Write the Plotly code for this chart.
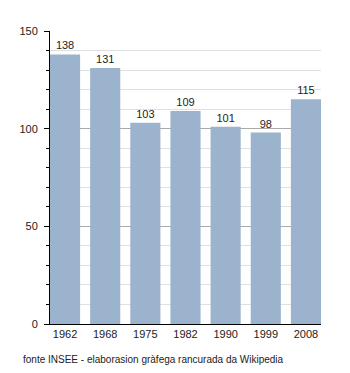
import plotly.graph_objects as go

# Population figures by census year
years = ["1962", "1968", "1975", "1982", "1990", "1999", "2008"]
population = [138, 131, 103, 109, 101, 98, 115]
source_note = "fonte INSEE - elaborasion gràfega rancurada da Wikipedia"

font_family = "Liberation Sans, Arial, sans-serif"

fig = go.Figure(
    go.Bar(
        x=years,
        y=population,
        marker=dict(color="#9bb3cc", line=dict(width=0)),
        text=[str(v) for v in population],
        textposition="outside",
        textfont=dict(size=11, color="#222222", family=font_family),
        cliponaxis=False,
        hoverinfo="skip",
    )
)

fig.update_layout(
    width=350,
    height=373,
    margin=dict(l=50, r=29, t=31, b=49),
    paper_bgcolor="white",
    plot_bgcolor="white",
    bargap=0.25,
    showlegend=False,
    font=dict(family=font_family, size=11, color="#222222"),
    xaxis=dict(
        type="category",
        range=[-0.375, 6.375],
        showline=True,
        linecolor="black",
        linewidth=1,
        ticks="",
        showgrid=False,
        tickfont=dict(size=11, color="#222222"),
        fixedrange=True,
    ),
    yaxis=dict(
        range=[0, 150],
        tickvals=[0, 50, 100, 150],
        showline=True,
        linecolor="black",
        linewidth=1,
        ticks="outside",
        ticklen=5,
        tickcolor="black",
        showgrid=True,
        gridcolor="#aaaaaa",
        gridwidth=1,
        zeroline=False,
        ticklabelstandoff=4,
        tickfont=dict(size=11, color="#222222"),
        minor=dict(
            dtick=10,
            ticks="outside",
            ticklen=3,
            tickcolor="black",
            showgrid=True,
            gridcolor="#e0e0e0",
            gridwidth=1,
        ),
        fixedrange=True,
    ),
    annotations=[
        dict(
            text=source_note,
            xref="paper",
            yref="paper",
            x=(21 - 50) / 271,
            y=0,
            yshift=-28,
            xanchor="left",
            yanchor="top",
            showarrow=False,
            font=dict(size=10, color="#222222", family=font_family),
        )
    ],
)

fig.write_html("out.html")
